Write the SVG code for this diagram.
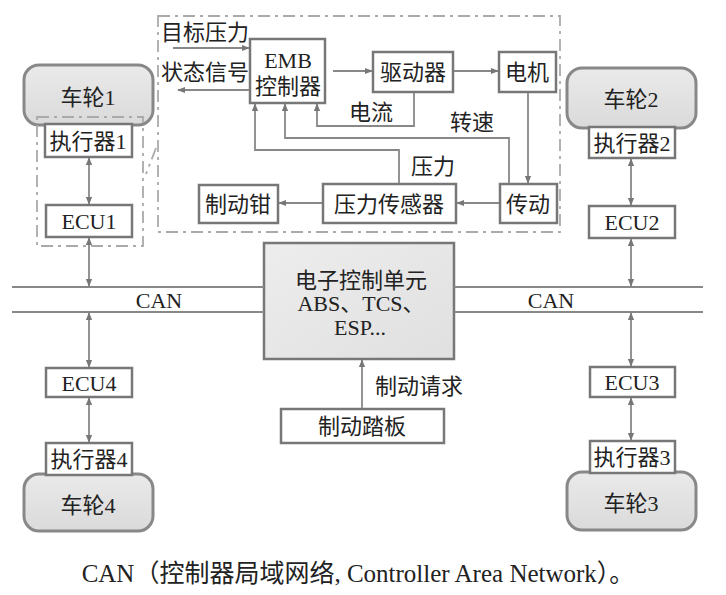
<svg xmlns="http://www.w3.org/2000/svg" width="726" height="595" viewBox="0 0 726 595">
<style>
text{font-family:"Liberation Serif","Noto Sans CJK SC",serif;fill:#222;font-size:22px;text-anchor:middle;dominant-baseline:central}
.box{fill:#fff;stroke:#777;stroke-width:2.5}
.wheel{fill:url(#wg);stroke:#888;stroke-width:3}
.ln{fill:none;stroke:#888;stroke-width:1.8}
.dash{fill:none;stroke:#aaa;stroke-width:1.8;stroke-dasharray:12 5 3 5}
</style>
<defs>
<linearGradient id="wg" x1="0" y1="0" x2="0" y2="1"><stop offset="0" stop-color="#eaeaea"/><stop offset="1" stop-color="#dadada"/></linearGradient>
<linearGradient id="eg" x1="0" y1="0" x2="1" y2="1"><stop offset="0" stop-color="#ededed"/><stop offset="1" stop-color="#e0e0e0"/></linearGradient>
<marker id="ah" viewBox="0 0 10 10" refX="9" refY="5" markerWidth="8" markerHeight="8" markerUnits="userSpaceOnUse" orient="auto-start-reverse"><path d="M0,1 L10,5 L0,9 Z" fill="#777"/></marker>
</defs>

<g id="wheel1"><rect class="wheel" x="24" y="65" width="129" height="60" rx="15"/><text x="88" y="97">车轮1</text></g>
<g id="wheel2"><rect class="wheel" x="567" y="68" width="129" height="60" rx="15"/><text x="631" y="99">车轮2</text></g>
<g id="wheel4"><rect class="wheel" x="24" y="474" width="129" height="57" rx="15"/><text x="88" y="505">车轮4</text></g>
<g id="wheel3"><rect class="wheel" x="567" y="472" width="129" height="58" rx="15"/><text x="631" y="503">车轮3</text></g>

<g id="regions">
<rect class="dash" x="37" y="117" width="106" height="129"/>
<rect class="dash" x="158" y="16" width="402" height="216"/>
<path class="dash" d="M156,148 L146,174"/>
</g>

<g id="exec1"><rect class="box" x="45" y="124" width="87" height="33"/><text x="88" y="141">执行器1</text></g>
<g id="ecu1"><rect class="box" x="46" y="205" width="86" height="32"/><text x="89" y="221">ECU1</text></g>
<g id="exec2"><rect class="box" x="589" y="127" width="86" height="31"/><text x="632" y="143">执行器2</text></g>
<g id="ecu2"><rect class="box" x="589" y="206" width="86" height="32"/><text x="632" y="222">ECU2</text></g>
<g id="ecu4"><rect class="box" x="46" y="368" width="86" height="29"/><text x="89" y="383">ECU4</text></g>
<g id="exec4"><rect class="box" x="46" y="443" width="86" height="32"/><text x="89" y="459">执行器4</text></g>
<g id="ecu3"><rect class="box" x="590" y="367" width="85" height="30"/><text x="632" y="382">ECU3</text></g>
<g id="exec3"><rect class="box" x="590" y="441" width="85" height="32"/><text x="632" y="457">执行器3</text></g>

<g id="ecu-center"><rect x="264" y="243" width="190" height="116" fill="url(#eg)" stroke="#777" stroke-width="2.5"/>
<text x="361" y="280">电子控制单元</text><text x="361" y="303">ABS、TCS、</text><text x="360" y="327">ESP...</text></g>
<g id="pedal"><rect class="box" x="281" y="409" width="163" height="34"/><text x="362" y="426">制动踏板</text></g>

<g id="emb"><rect class="box" x="250" y="39" width="75" height="64"/><text x="288" y="60">EMB</text><text x="288" y="86">控制器</text></g>
<g id="driver"><rect class="box" x="373" y="52" width="80" height="40"/><text x="413" y="72">驱动器</text></g>
<g id="motor"><rect class="box" x="499" y="52" width="57" height="40"/><text x="527" y="72">电机</text></g>
<g id="trans"><rect class="box" x="500" y="184" width="57" height="39"/><text x="528" y="204">传动</text></g>
<g id="psensor"><rect class="box" x="323" y="184" width="133" height="39"/><text x="389" y="204">压力传感器</text></g>
<g id="caliper"><rect class="box" x="199" y="185" width="79" height="38"/><text x="238" y="204">制动钳</text></g>

<g id="connectors">
<line class="ln" x1="12" y1="287" x2="264" y2="287"/><line class="ln" x1="12" y1="312" x2="264" y2="312"/>
<line class="ln" x1="454" y1="287" x2="703" y2="287"/><line class="ln" x1="454" y1="312" x2="703" y2="312"/>
<line class="ln" x1="89" y1="158" x2="89" y2="204" marker-start="url(#ah)" marker-end="url(#ah)"/>
<line class="ln" x1="89" y1="238" x2="89" y2="286" marker-start="url(#ah)" marker-end="url(#ah)"/>
<line class="ln" x1="89" y1="313" x2="89" y2="367" marker-start="url(#ah)" marker-end="url(#ah)"/>
<line class="ln" x1="89" y1="398" x2="89" y2="442" marker-start="url(#ah)" marker-end="url(#ah)"/>
<line class="ln" x1="631" y1="159" x2="631" y2="205" marker-start="url(#ah)" marker-end="url(#ah)"/>
<line class="ln" x1="631" y1="239" x2="631" y2="286" marker-start="url(#ah)" marker-end="url(#ah)"/>
<line class="ln" x1="631" y1="313" x2="631" y2="366" marker-start="url(#ah)" marker-end="url(#ah)"/>
<line class="ln" x1="631" y1="398" x2="631" y2="440" marker-start="url(#ah)" marker-end="url(#ah)"/>
<line class="ln" x1="362" y1="408" x2="362" y2="360" marker-end="url(#ah)"/>
<line class="ln" x1="173" y1="48" x2="249" y2="48" marker-end="url(#ah)"/>
<line class="ln" x1="249" y1="90" x2="178" y2="90" marker-end="url(#ah)"/>
<line class="ln" x1="333" y1="71" x2="372" y2="71" marker-end="url(#ah)"/>
<line class="ln" x1="454" y1="71" x2="498" y2="71" marker-end="url(#ah)"/>
<line class="ln" x1="528" y1="93" x2="528" y2="183" marker-end="url(#ah)"/>
<line class="ln" x1="499" y1="203" x2="457" y2="203" marker-end="url(#ah)"/>
<line class="ln" x1="322" y1="203" x2="279" y2="203" marker-end="url(#ah)"/>
<polyline class="ln" points="414,93 414,126 317,126 317,104" marker-end="url(#ah)"/>
<polyline class="ln" points="509,183 509,138 285,138 285,104" marker-end="url(#ah)"/>
<polyline class="ln" points="399,183 399,150 255,150 255,104" marker-end="url(#ah)"/>
</g>

<g id="labels">
<text x="205" y="32">目标压力</text>
<text x="205" y="72">状态信号</text>
<text x="371" y="112">电流</text>
<text x="472" y="122">转速</text>
<text x="433" y="166">压力</text>
<text x="419" y="386">制动请求</text>
<text x="159" y="300">CAN</text>
<text x="551" y="300">CAN</text>
<text x="358" y="573" style="font-size:25px">CAN（控制器局域网络, Controller Area Network）。</text>
</g>
</svg>
